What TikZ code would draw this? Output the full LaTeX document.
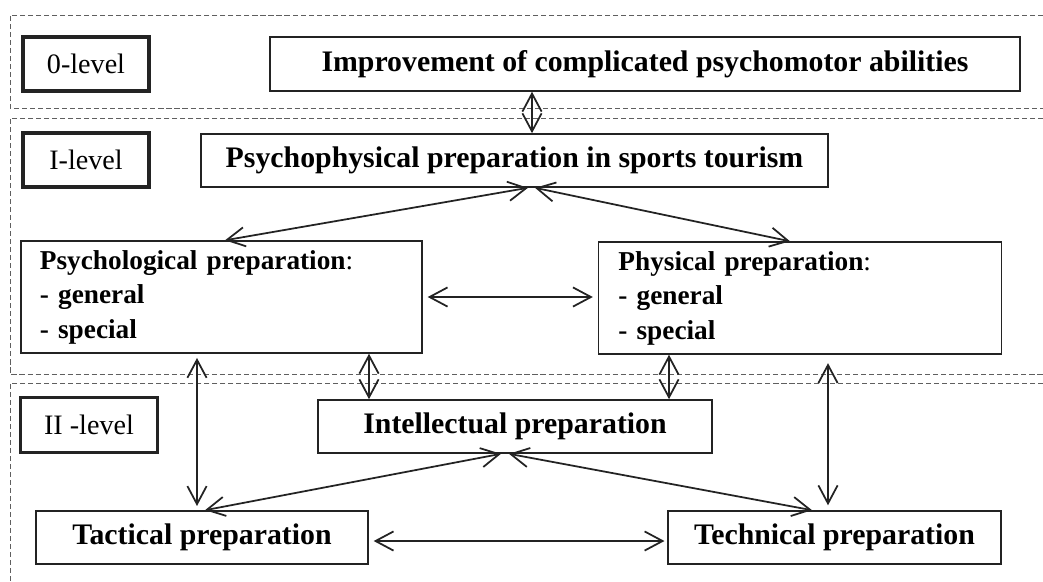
\documentclass[tikz,border=0pt]{standalone}
\usepackage{fontspec}
\setmainfont{Liberation Serif}
\definecolor{framegray}{RGB}{95,95,95}
\definecolor{boxline}{RGB}{35,35,35}
\usetikzlibrary{calc, arrows.meta}

\begin{document}
\begin{tikzpicture}[x=0.025cm, y=-0.025cm,
  lvl/.style={draw=boxline, line width=2.5pt, minimum height=1.35cm,
    inner sep=0pt, font=\fontsize{20}{24}\selectfont},
  prep/.style={draw=boxline, line width=1pt, minimum height=1.33cm,
    inner sep=0pt, font=\fontsize{21.2}{25}\selectfont\bfseries},
  preplist/.style={draw=boxline, line width=1pt, minimum height=2.8cm,
    text width=9.075cm, align=left, inner xsep=#1, inner ysep=0pt,
    font=\fontsize{19.4}{24.5}\selectfont\bfseries},
  levelframe/.style={draw=framegray, line width=0.7pt,
    dash pattern=on 3.6pt off 2.1pt},
  arw/.style={{Straight Barb[length=0.45cm,width=0.48cm]}-{Straight Barb[length=0.45cm,width=0.48cm]},
    line width=1.25pt, boxline},
]
\useasboundingbox (0,0) rectangle (1043,581);

% Level frames
\draw[levelframe] (1043,15) -- (10,15) -- (10,108) -- (1043,108);
\draw[levelframe] (1043,118) -- (10,118) -- (10,374) -- (1043,374);
\draw[levelframe] (1043,383) -- (10,383) -- (10,581);

\node[lvl, minimum width=3.15cm] (lvl0) at (86,64) {0-level};
\node[lvl, minimum width=3.15cm] (lvl1) at (86,160) {I-level};
\node[lvl, minimum width=3.425cm, minimum height=1.375cm] (lvl2) at (89,425) {II -level};

\node[prep, minimum width=18.75cm, minimum height=1.35cm] (improve) at (645,64) {Improvement of complicated psychomotor abilities};
\node[prep, minimum width=15.675cm] (psyphys) at (514.5,160.5) {Psychophysical preparation in sports tourism};
\node[preplist=0.475cm] (psycho) at (221.5,297) {Psychological preparation\textmd{:}\\- general\\- special};
\node[preplist=0.5cm] (physical) at (800,298) {Physical preparation\textmd{:}\\- general\\- special};
\node[prep, minimum width=9.85cm] (intel) at (515,426.5) {Intellectual preparation};
\node[prep, minimum width=8.3cm] (tactic) at (202,537.5) {Tactical preparation};
\node[prep, minimum width=8.325cm] (techn) at (834.5,537.5) {Technical preparation};

% 0-level to I-level
\draw[arw] ($(improve.south)+(-113,0)$) -- ($(psyphys.north)+(17.5,0)$);

% I-level
\draw[arw] ($(psyphys.south)+(13.5,0)$) -- ($(psycho.north)+(3.5,0)$);
\draw[arw] ($(psyphys.south)+(20.5,0)$) -- ($(physical.north)+(-10,0)$);
\draw[arw, shorten <=3.5pt, shorten >=3.5pt] (psycho.east) -- (psycho.east -| physical.west);

% I-level to II-level
\draw[arw, shorten <=3pt, shorten >=3pt] ($(psycho.south)+(-24.5,0)$) -- ($(tactic.north)+(-5,0)$);
\draw[arw] ($(psycho.south)+(147.5,0)$) -- ($(intel.north)+(-146,0)$);
\draw[arw] ($(physical.south)+(-131,0)$) -- ($(intel.north)+(154,0)$);
\draw[arw, shorten <=6pt, shorten >=3.5pt] ($(physical.south)+(28,0)$) -- ($(techn.north)+(-6.5,0)$);

% II-level
\draw[arw] ($(intel.south)+(-14,0)$) -- ($(tactic.north)+(3,0)$);
\draw[arw] ($(intel.south)+(-6,0)$) -- ($(techn.north)+(-22.5,0)$);
\draw[arw, shorten <=3.5pt, shorten >=2pt] ($(tactic.east)+(0,3.5)$) -- ($(techn.west)+(0,3.5)$);
\end{tikzpicture}
\end{document}
